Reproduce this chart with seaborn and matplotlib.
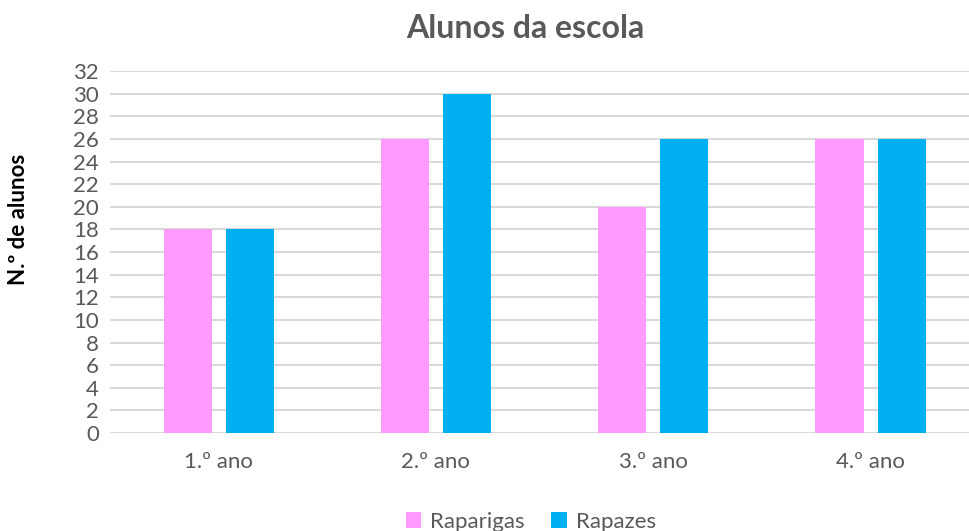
import matplotlib
matplotlib.use("Agg")
import matplotlib.pyplot as plt
import pandas as pd
import seaborn as sns

categories = ["1.º ano", "2.º ano", "3.º ano", "4.º ano"]
raparigas = [18, 26, 20, 26]
rapazes = [18, 30, 26, 26]
series_names = ["Raparigas", "Rapazes"]
colors = ["#FF9BFF", "#00B0F0"]
yticks = list(range(0, 33, 2))

df = pd.DataFrame({
    "ano": categories * 2,
    "alunos": raparigas + rapazes,
    "grupo": [series_names[0]] * 4 + [series_names[1]] * 4,
})

sns.set_style("white")
plt.rcParams["font.family"] = ["Lato", "DejaVu Sans"]
txt = "#595959"

fig = plt.figure(figsize=(9.69, 5.31), dpi=100)
ax = fig.add_axes([0.1135, 0.1846, 0.897, 0.6814])
sns.barplot(data=df, x="ano", y="alunos", hue="grupo", palette=colors,
            width=0.571, gap=0.226, ax=ax, saturation=1, legend=True, linewidth=0)

ax.set_ylim(0, 32)
ax.set_yticks(yticks)
ax.set_xlim(-0.5, 3.5)
ax.yaxis.grid(True, color="#D9D9D9", linewidth=1.5)
ax.set_axisbelow(True)
for s in ax.spines.values():
    s.set_visible(False)
ax.tick_params(axis="both", length=0, labelsize=16, colors=txt, pad=8)
ax.tick_params(axis="x", pad=14)
ax.set_xlabel("")
ax.set_ylabel("N.º de alunos", fontsize=16, fontweight="bold", color="black")
ax.yaxis.set_label_coords(-0.093, 0.589)
ax.set_title("Alunos da escola", fontsize=23, fontweight="bold", color=txt, pad=24, x=0.478)

handles, labels = ax.get_legend_handles_labels()
ax.legend(handles, labels, loc="upper center", bbox_to_anchor=(0.484, -0.162), ncol=2,
          frameon=False, fontsize=16, labelcolor=txt, handlelength=0.7, handleheight=0.7,
          columnspacing=1.2, handletextpad=0.4)

fig.savefig("out.png", dpi=100)
